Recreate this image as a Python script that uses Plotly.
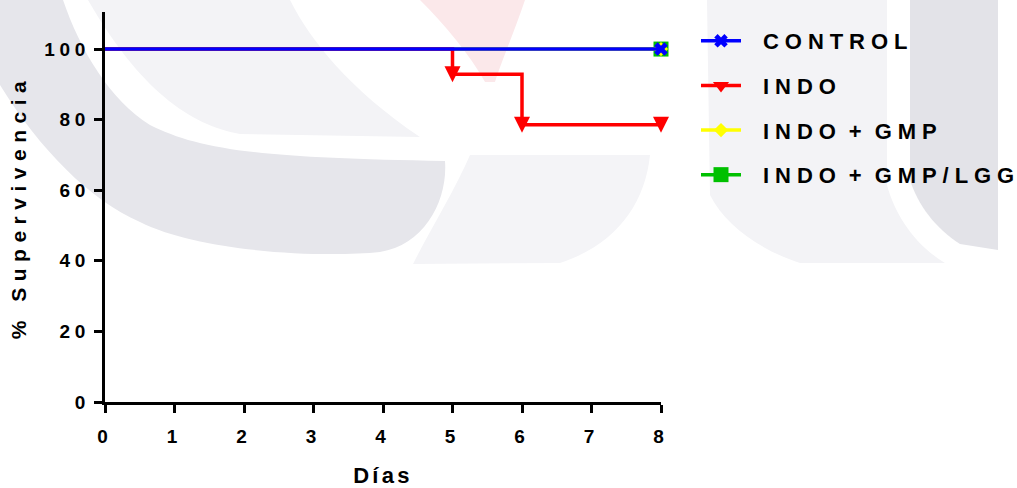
import plotly.graph_objects as go

# ---------------- data ----------------
days = [0, 5, 6, 8]
series_names = ["CONTROL", "INDO", "INDO + GMP", "INDO + GMP/LGG"]
control = [100, 100, 100, 100]
indo = [100, 92.86, 78.57, 78.57]
indo_gmp = [100, 100, 100, 100]
indo_gmp_lgg = [100, 100, 100, 100]
x_ticks = [0, 1, 2, 3, 4, 5, 6, 7, 8]
y_ticks = [0, 20, 40, 60, 80, 100]

# ---------------- styles ----------------
styles = {
    "CONTROL": dict(color="#0000FF", symbol="x", size=12, standoff=0, leg_symbol="x", leg_size=12),
    "INDO": dict(color="#FF0000", symbol="arrow-down", size=16, standoff=8,
                 leg_symbol="triangle-down", leg_size=14),
    "INDO + GMP": dict(color="#FFFF00", symbol="diamond", size=11, standoff=0,
                       leg_symbol="diamond", leg_size=11),
    "INDO + GMP/LGG": dict(color="#00C000", symbol="square", size=15, standoff=0,
                           leg_symbol="square", leg_size=15),
}
values = {"CONTROL": control, "INDO": indo, "INDO + GMP": indo_gmp,
          "INDO + GMP/LGG": indo_gmp_lgg}
draw_order = ["INDO + GMP/LGG", "INDO + GMP", "INDO", "CONTROL"]

FONT = "Liberation Sans, Arial, sans-serif"
LW = 3.5

fig = go.Figure()
for name in draw_order:
    vals = values[name]
    st = styles[name]
    rank = series_names.index(name) + 1
    # step line through all points
    fig.add_trace(go.Scatter(
        x=days, y=vals, mode="lines", line=dict(color=st["color"], width=LW, shape="hv"),
        showlegend=False, legendgroup=name, hoverinfo="skip", cliponaxis=False))
    # markers at event points (value changes) and at the last point
    idx = [i for i in range(1, len(vals)) if vals[i] != vals[i - 1] or i == len(vals) - 1]
    fig.add_trace(go.Scatter(
        x=[days[i] for i in idx], y=[vals[i] for i in idx], mode="markers",
        name=name, legendgroup=name, showlegend=False,
        marker=dict(color=st["color"], symbol=st["symbol"], size=st["size"],
                    standoff=st["standoff"], line=dict(width=0)),
        cliponaxis=False))
    # legend entry (line + symbol)
    fig.add_trace(go.Scatter(
        x=[None], y=[None], mode="lines+markers", name=name, legendgroup=name,
        legendrank=rank, showlegend=True,
        line=dict(color=st["color"], width=LW),
        marker=dict(color=st["color"], symbol=st["leg_symbol"], size=st["leg_size"],
                    line=dict(width=0))))

# ---------------- background watermark (decorative) ----------------
L, T, W, H = 105, 12, 556, 390


def P(x, y):
    return f"{(x - L) / W:.4f},{(T + H - y) / H:.4f}"


def path(cmds):
    out = []
    for c in cmds:
        op, pts = c[0], c[1:]
        out.append(op + " ".join(P(*p) for p in pts))
    return " ".join(out) + " Z"


wm = [
    ("#e6e6eb", [("M", (0, 0)), ("L", (63, 0)), ("C", (80, 50), (110, 100), (150, 125)),
                 ("C", (200, 150), (260, 158), (445, 161)),
                 ("C", (448, 200), (425, 245), (380, 252)),
                 ("C", (320, 258), (200, 252), (140, 222)),
                 ("C", (90, 200), (40, 150), (0, 85))]),
    ("#f3f3f6", [("M", (88, 0)), ("L", (290, 0)), ("C", (310, 40), (350, 90), (420, 137)),
                 ("L", (240, 134)), ("C", (190, 125), (140, 90), (88, 0))]),
    ("#fbe8ea", [("M", (420, 0)), ("L", (525, 0)), ("C", (515, 30), (502, 60), (495, 82)),
                 ("L", (485, 82)), ("C", (470, 55), (445, 25), (420, 0))]),
    ("#f4f4f7", [("M", (470, 155)), ("L", (650, 155)), ("C", (645, 205), (615, 245), (560, 263)),
                 ("L", (413, 264)), ("C", (430, 230), (455, 190), (470, 155))]),
    ("#f3f3f6", [("M", (707, 0)), ("L", (887, 0)), ("L", (887, 185)),
                 ("C", (895, 215), (915, 245), (945, 263)), ("L", (800, 263)),
                 ("C", (760, 250), (725, 225), (710, 195))]),
    ("#e3e3e8", [("M", (910, 0)), ("L", (998, 0)), ("L", (998, 250)), ("L", (960, 244)),
                 ("C", (935, 228), (918, 205), (910, 180))]),
]
for col, cmds in wm:
    fig.add_shape(type="path", xref="paper", yref="paper", path=path(cmds),
                  fillcolor=col, line=dict(width=0), layer="below")

# ---------------- layout ----------------
axis_common = dict(
    showline=True, linewidth=3, linecolor="black", showgrid=False, zeroline=False,
    ticks="outside", ticklen=8, tickwidth=3, tickcolor="black",
    tickfont=dict(family=FONT, size=19, color="black", weight="bold"),
)
fig.update_layout(
    width=1017, height=488,
    margin=dict(l=L, r=1017 - L - W, t=T, b=488 - T - H, pad=0, autoexpand=False),
    paper_bgcolor="white", plot_bgcolor="rgba(0,0,0,0)",
    xaxis=dict(range=[0, 8], tickvals=x_ticks, ticklabelstandoff=7, **axis_common,
               title=dict(text="Días", standoff=33,
                          font=dict(family=FONT, size=22, color="black", weight="bold"))),
    yaxis=dict(range=[0, 110.5], tickvals=y_ticks, **axis_common,
               title=dict(text="% Supervivencia", standoff=27,
                          font=dict(family=FONT, size=21, color="black", weight="bold"))),
    legend=dict(x=(696 - L) / W, y=(T + H - 20) / H, xanchor="left", yanchor="top",
                font=dict(family=FONT, size=22, color="black", weight="bold"),
                bgcolor="rgba(0,0,0,0)", borderwidth=0, itemwidth=57,
                tracegroupgap=13, traceorder="grouped"),
    showlegend=True,
)

js = """
var s=document.createElement('style');
s.innerHTML='.xtick text,.ytick text{letter-spacing:0.25em}'
 + '.legendtext{letter-spacing:0.27em;word-spacing:-5px}'
 + '.legendlines path{d:path("M5,0h40")}'
 + '.legendpoints path.scatterpts{transform:translate(25px,0px)}'
 + 'text.xtitle{letter-spacing:0.15em}text.ytitle{letter-spacing:0.31em}';
document.head.appendChild(s);
var gd=document.getElementById('{plot_id}');
Plotly.relayout(gd, {'legend.font.size': 22.01});
"""
fig.write_html("out.html", post_script=js)
